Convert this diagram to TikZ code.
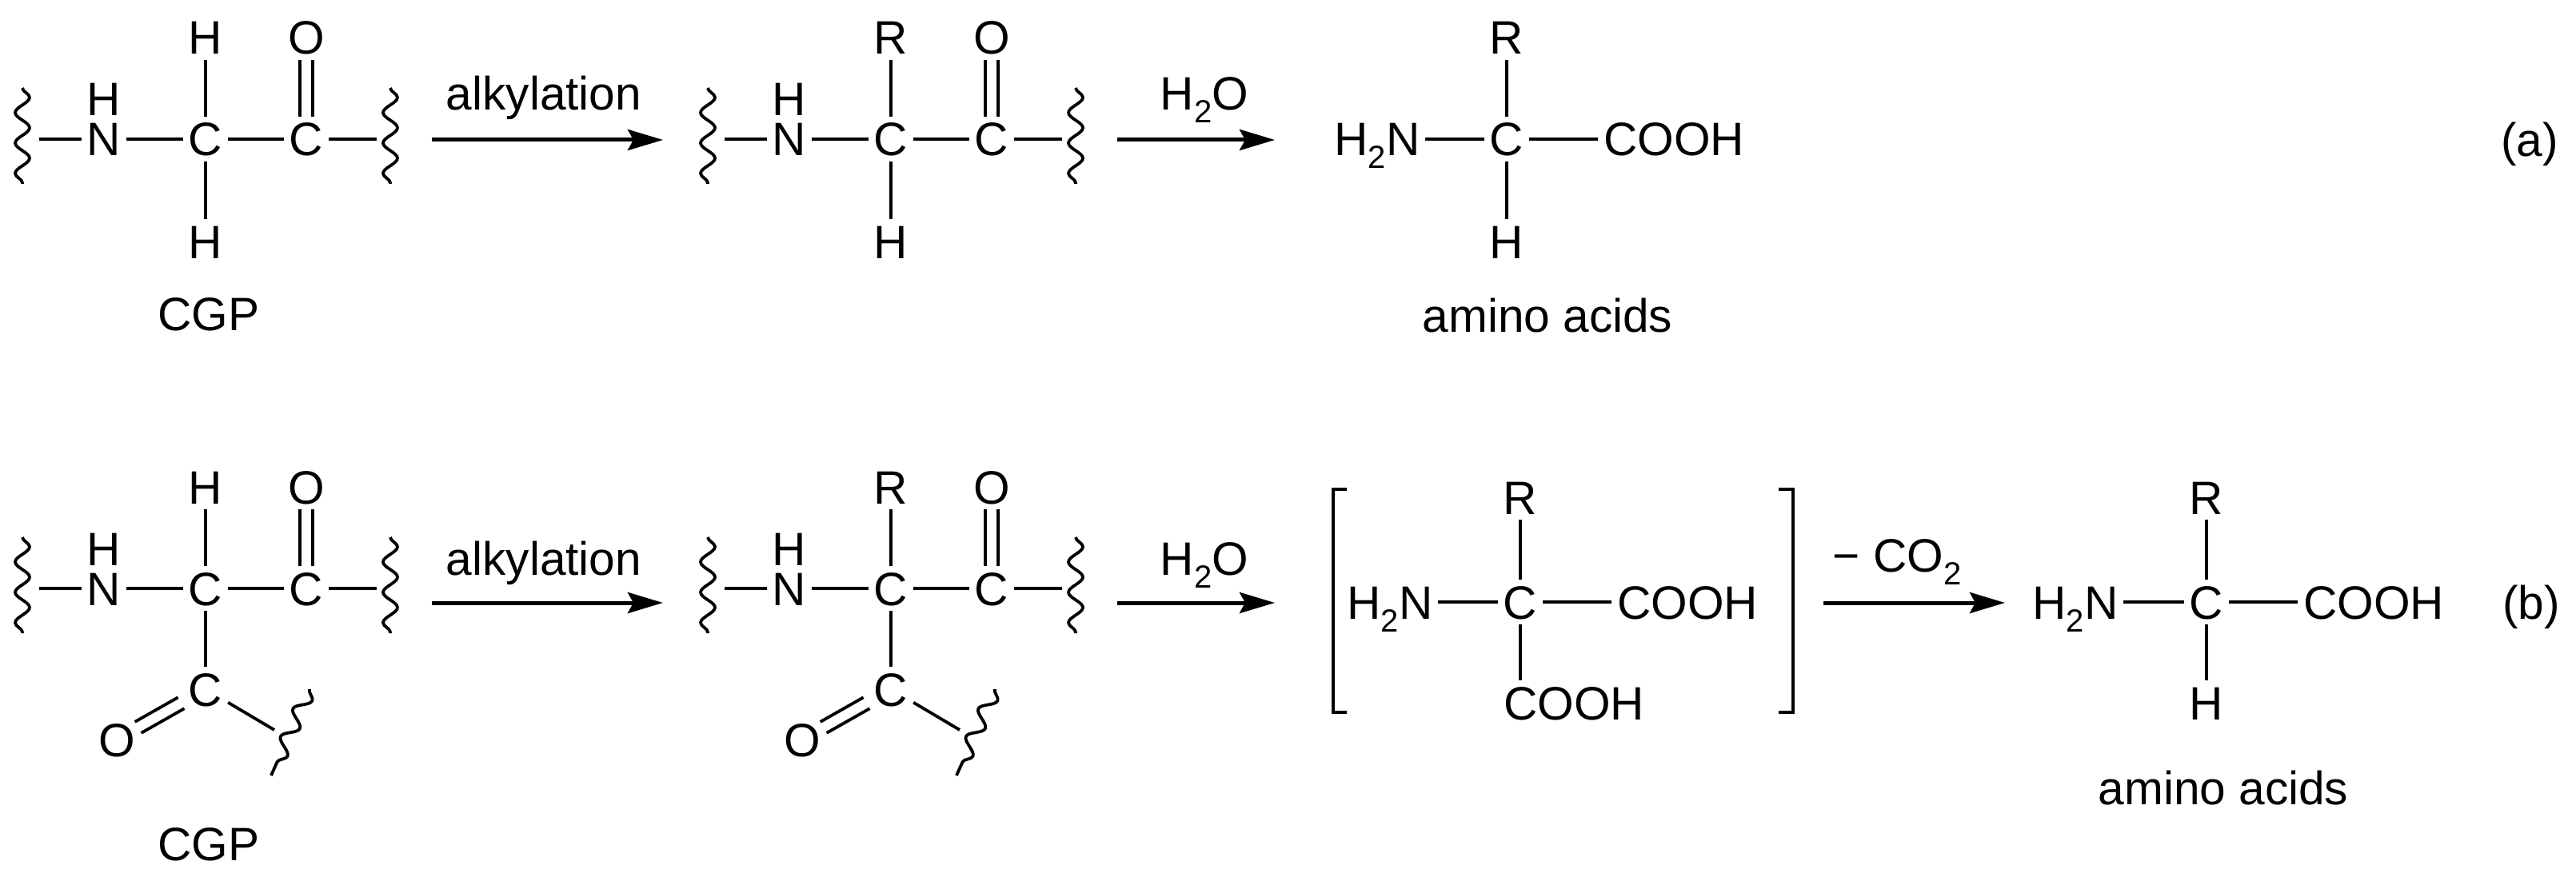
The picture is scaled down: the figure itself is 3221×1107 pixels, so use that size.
\documentclass[tikz,border=0pt]{standalone}
\usepackage{fontspec}
\setmainfont{Liberation Sans}
\usetikzlibrary{arrows.meta,calc,decorations.pathmorphing}
\newcommand{\subtwo}{\raisebox{-8pt}{\fontsize{20}{20}\selectfont 2}}
\tikzset{
  atom/.style={font=\fontsize{29.3}{35}\selectfont,text height=21pt,text depth=0pt,inner xsep=3.5pt,inner ysep=3.5pt,outer sep=0pt,text=black},
  bond/.style={line width=1.9pt,black},
  wavybond/.style={line width=1.9pt,black,line join=round,decorate,decoration={snake,amplitude=4.5pt,segment length=19pt}},
  rxn/.style={line width=2.5pt,black,-{Stealth[length=22pt,width=13pt,inset=3.5pt]}},
  pics/backbone/.style={code={
    \node[atom] (-hn) at (130,-50) {H};
    \node[atom] (-n) at (130,0) {N};
    \node[atom] (-c) at (257,0) {C};
    \node[atom] (-c2) at (383,0) {C};
    \node[atom] (-top) at (257,-127) {#1};
    \node[atom] (-o) at (383,-127) {O};
    \coordinate (-wla) at (28,-64);
    \coordinate (-wlb) at (28,56);
    \coordinate (-wra) at (488,-64);
    \coordinate (-wrb) at (488,56);
    \coordinate (-bl) at (49,0);
    \coordinate (-br) at (471,0);
    \draw[wavybond] (-wla) -- (-wlb);
    \draw[wavybond] (-wra) -- (-wrb);
    \draw[bond] (-bl) -- (-n);
    \draw[bond] (-n) -- (-c);
    \draw[bond] (-c) -- (-c2);
    \draw[bond] (-c2) -- (-br);
    \draw[bond] (-c) -- (-top);
    \draw[bond] ([xshift=-4pt]-c2.north) -- ([xshift=-4pt]-o.south);
    \draw[bond] ([xshift=4pt]-c2.north) -- ([xshift=4pt]-o.south);
  }},
  pics/acyl/.style={code={
    \node[atom] (-c3) at (257,126) {C};
    \node[atom] (-o2) at (146,189) {O};
    \coordinate (-wa) at (387,126);
    \coordinate (-wb) at (339,234);
    \coordinate (-wj) at (343,177);
    \draw[wavybond] (-wa) -- (-wb);
    \draw[bond] (-c3) -- (-wj);
    \draw[bond] ($(-c3)!17.5pt!(-o2)!4pt!90:(-o2)$) -- ($(-c3)!48.5pt!(-o2)!4pt!90:(-o2)$);
    \draw[bond] ($(-c3)!17.5pt!(-o2)!4pt!-90:(-o2)$) -- ($(-c3)!48.5pt!(-o2)!4pt!-90:(-o2)$);
  }},
}
\begin{document}
\begin{tikzpicture}[x=0.5pt,y=-0.5pt]
\useasboundingbox (0,0) rectangle (3221,1107);
\fill[white] (0,0) rectangle (3221,1107);

% --- row (a)
\pic (a1) at (0,174) {backbone={H}};
\node[atom] (a1h) at (257,302) {H};
\draw[bond] (a1-c) -- (a1h);
\node[atom] (cgpa) at (261,392) {CGP};

\coordinate (ar1s) at (540,175);
\coordinate (ar1e) at (829,175);
\draw[rxn] (ar1s) -- (ar1e);
\node[atom] (alka) at (680,117) {alkylation};

\pic (a2) at (857,174) {backbone={R}};
\node[atom] (a2h) at (1114,302) {H};
\draw[bond] (a2-c) -- (a2h);

\coordinate (ar2s) at (1397,175);
\coordinate (ar2e) at (1594,175);
\draw[rxn] (ar2s) -- (ar2e);
\node[atom] (wa) at (1506,117) {H\subtwo O};

\node[atom] (a3n) at (1722,174) {H\subtwo N};
\node[atom] (a3c) at (1884,174) {C};
\node[atom] (a3cooh) at (2093,174) {COOH};
\node[atom] (a3r) at (1884,47) {R};
\node[atom] (a3h) at (1884,302) {H};
\draw[bond] (a3n) -- (a3c);
\draw[bond] (a3c) -- (a3cooh);
\draw[bond] (a3c) -- (a3r);
\draw[bond] (a3c) -- (a3h);
\node[atom] (aaa) at (1935,394) {amino acids};
\node[atom] (la) at (3163,175) {(a)};

% --- row (b)
\pic (b1) at (0,736) {backbone={H}};
\pic (b1) at (0,736) {acyl};
\draw[bond] (b1-c) -- (b1-c3);
\node[atom] (cgpb) at (261,1055) {CGP};

\coordinate (br1s) at (540,754);
\coordinate (br1e) at (829,754);
\draw[rxn] (br1s) -- (br1e);
\node[atom] (alkb) at (680,698) {alkylation};

\pic (b2) at (857,736) {backbone={R}};
\pic (b2) at (857,736) {acyl};
\draw[bond] (b2-c) -- (b2-c3);

\coordinate (br2s) at (1397,754);
\coordinate (br2e) at (1594,754);
\draw[rxn] (br2s) -- (br2e);
\node[atom] (wb) at (1506,698) {H\subtwo O};

% bracketed intermediate
\node[atom] (b3n) at (1738,753) {H\subtwo N};
\node[atom] (b3c) at (1901,753) {C};
\node[atom] (b3cooh) at (2110,753) {COOH};
\node[atom] (b3r) at (1901,622) {R};
\node[atom] (b3low) at (1968,879) {COOH};
\draw[bond] (b3n) -- (b3c);
\draw[bond] (b3c) -- (b3cooh);
\draw[bond] (b3c) -- (b3r);
\draw[bond] (b3c.south) -- (b3c.south |- b3low.north);
\draw[bond] (1684,612) -- (1667,612) -- (1667,891) -- (1684,891);
\draw[bond] (2224,612) -- (2242,612) -- (2242,891) -- (2224,891);

\coordinate (br3s) at (2280,754);
\coordinate (br3e) at (2507,754);
\draw[rxn] (br3s) -- (br3e);
\node[atom] (co2) at (2372,694) {− CO\subtwo};

\node[atom] (b4n) at (2595,753) {H\subtwo N};
\node[atom] (b4c) at (2759,753) {C};
\node[atom] (b4cooh) at (2968,753) {COOH};
\node[atom] (b4r) at (2759,622) {R};
\node[atom] (b4h) at (2759,879) {H};
\draw[bond] (b4n) -- (b4c);
\draw[bond] (b4c) -- (b4cooh);
\draw[bond] (b4c) -- (b4r);
\draw[bond] (b4c) -- (b4h);
\node[atom] (aab) at (2780,985) {amino acids};
\node[atom] (lb) at (3165,753) {(b)};
\end{tikzpicture}
\end{document}
